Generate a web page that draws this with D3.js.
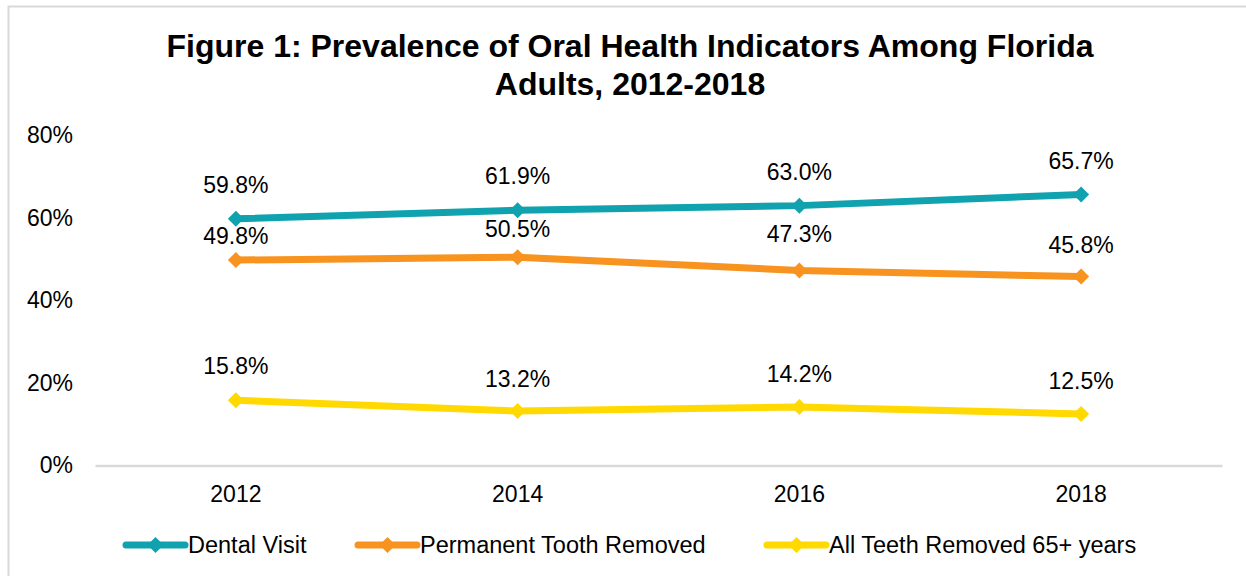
<!DOCTYPE html>
<html><head><meta charset="utf-8">
<script src="https://cdn.jsdelivr.net/npm/d3@7"></script>
<style>body{margin:0;background:#fff}svg{display:block;font-family:Arial,"Liberation Sans",sans-serif}</style>
</head><body><svg id="c" width="1246" height="576"></svg>
<script>
const years = ["2012","2014","2016","2018"];
const dentalVisit = [59.8, 61.9, 63.0, 65.7];
const toothRemoved = [49.8, 50.5, 47.3, 45.8];
const allTeethRemoved = [15.8, 13.2, 14.2, 12.5];
const yTicks = [0, 20, 40, 60, 80];
const seriesNames = ["Dental Visit", "Permanent Tooth Removed", "All Teeth Removed 65+ years"];
const seriesColors = ["#10A2AE", "#F7931E", "#FFD900"];
const seriesValues = [dentalVisit, toothRemoved, allTeethRemoved];
const titleLines = ["Figure 1: Prevalence of Oral Health Indicators Among Florida", "Adults, 2012-2018"];

const svg = d3.select("#c");
svg.append("rect").attr("x",8.5).attr("y",6.5).attr("width",1260).attr("height",600)
  .attr("fill","#fff").attr("stroke","#D9D9D9").attr("stroke-width",2);

svg.selectAll("text.title").data(titleLines).enter().append("text")
  .attr("x",630).attr("y",(d,i)=>57+i*38).attr("text-anchor","middle")
  .attr("font-size",32).attr("font-weight","bold").attr("fill","#000").text(d=>d);

const x = d3.scaleBand().domain(years).range([95,1222]);
const y = d3.scaleLinear().domain([0,80]).range([465.5,135.5]);

const ya = svg.append("g").attr("transform","translate(73,0)")
  .call(d3.axisLeft(y).tickValues(yTicks).tickFormat(d=>d+"%").tickSize(0).tickPadding(0));
ya.select(".domain").remove();
ya.selectAll("text").attr("font-size",23).attr("fill","#000").attr("font-family","Arial,'Liberation Sans',sans-serif");

const xa = svg.append("g").attr("transform","translate(0,465.5)")
  .call(d3.axisBottom(x).tickSize(0).tickPadding(20));
xa.select(".domain").attr("stroke","#D9D9D9").attr("stroke-width",2.5);
xa.selectAll("text").attr("font-size",23).attr("fill","#000").attr("font-family","Arial,'Liberation Sans',sans-serif");

const cx = d => x(d) + x.bandwidth()/2;
const diamond = "M0,-8L8,0L0,8L-8,0Z";
const line = d3.line().x((d,i)=>cx(years[i])).y(d=>y(d));
// label vertical nudges (layout, as placed in the original)
const labelDy = [[-26,-26,-26,-25.5],[-16,-20,-28,-24],[-26,-24,-25,-25]];

seriesValues.forEach((vals,si)=>{
  const g = svg.append("g");
  g.append("path").datum(vals).attr("d",line).attr("fill","none")
    .attr("stroke",seriesColors[si]).attr("stroke-width",7).attr("stroke-linejoin","round");
  g.selectAll("path.m").data(vals).enter().append("path").attr("class","m")
    .attr("d",diamond).attr("fill",seriesColors[si])
    .attr("transform",(d,i)=>`translate(${cx(years[i])},${y(d)})`);
  g.selectAll("text").data(vals).enter().append("text")
    .attr("x",(d,i)=>cx(years[i])).attr("y",(d,i)=>y(d)+labelDy[si][i])
    .attr("text-anchor","middle").attr("font-size",23).attr("fill","#000")
    .text(d=>d.toFixed(1)+"%");
});

const legX = [126, 358, 767];
const lg = svg.append("g");
seriesNames.forEach((n,i)=>{
  lg.append("line").attr("x1",legX[i]).attr("x2",legX[i]+59).attr("y1",545).attr("y2",545)
    .attr("stroke",seriesColors[i]).attr("stroke-width",7).attr("stroke-linecap","round");
  lg.append("path").attr("d",diamond).attr("fill",seriesColors[i])
    .attr("transform",`translate(${legX[i]+29.5},545)`);
  lg.append("text").attr("x",legX[i]+62).attr("y",553).attr("font-size",23.5).attr("fill","#000").text(n);
});
</script></body></html>
